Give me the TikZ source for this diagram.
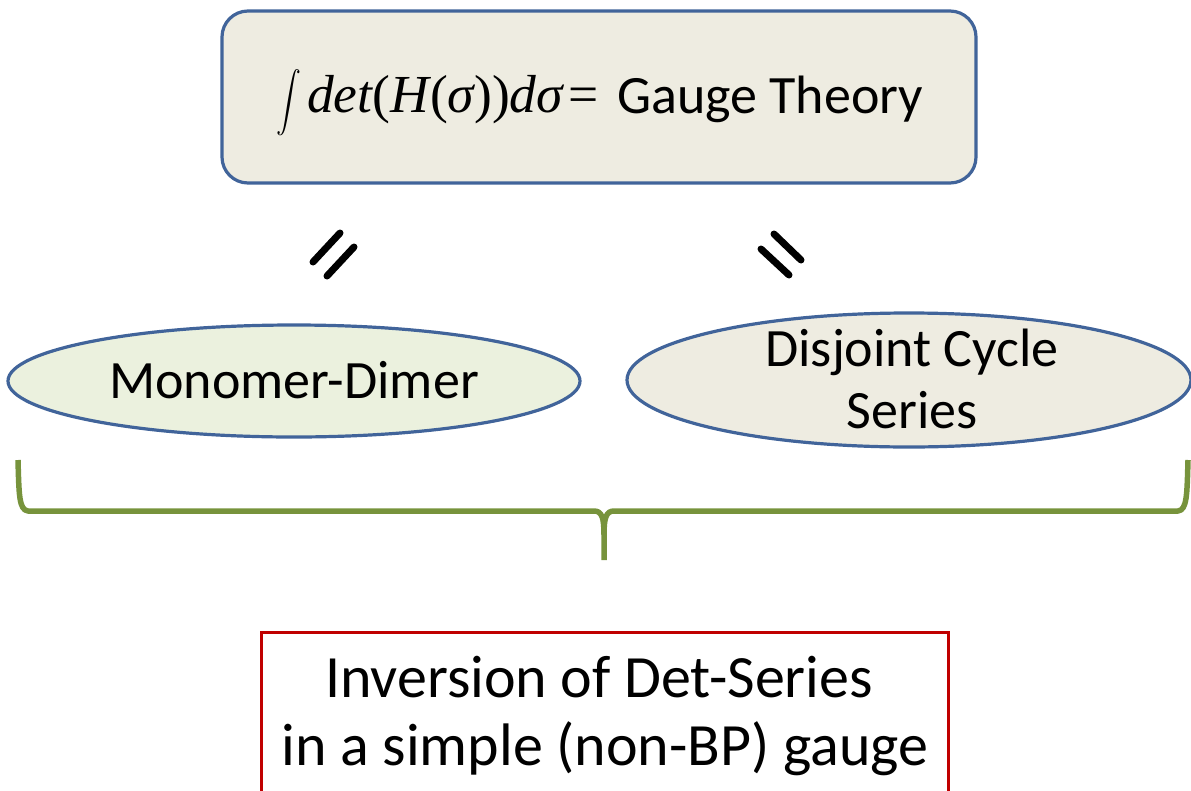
\documentclass[tikz,border=0pt]{standalone}
\usepackage{amsmath}
\usepackage{graphicx}
\usepackage{fontspec}
\setmainfont{Carlito}
\newfontfamily\tnr{Liberation Serif}
\usetikzlibrary{shapes.geometric}
\definecolor{boxline}{HTML}{41649A}
\definecolor{boxfill}{HTML}{EEECE1}
\definecolor{greenfill}{HTML}{EBF1DE}
\definecolor{bracecol}{HTML}{77933C}
\definecolor{redline}{HTML}{C00000}
\tikzset{
  topbox/.style={draw=boxline, fill=boxfill, line width=3.2pt, rounded corners=26pt},
  ellnode/.style={ellipse, draw=boxline, line width=3.2pt, inner sep=0pt, align=center},
  eqbar/.style={line width=7pt, line cap=round},
  bracepath/.style={draw=bracecol, line width=5.5pt, line join=round},
  redbox/.style={draw=redline, line width=3pt},
  bigtext/.style={font=\fontsize{54}{60}\selectfont, align=center},
}
\begin{document}
\begin{tikzpicture}[x=1pt,y=-1pt]
\useasboundingbox (0,0) rectangle (1191,790);
\clip (0,0) rectangle (1191,790);
% top box
\draw[topbox] (222,11) rectangle (976,183);
\node[inner sep=0pt, font=\fontsize{52}{56}\selectfont] (intsign) at (289,103)
  {\scalebox{1.0}[1.2]{$\displaystyle\int$}};
\node[anchor=base west, inner sep=0pt, font=\fontsize{53.5}{56}\selectfont] (formula) at (307,112)
  {{\tnr\itshape det}{\tnr(}{\tnr\itshape H}\hspace{1pt}{\tnr(}{\tnr\itshape σ}{\tnr))}{\tnr\itshape d}{\tnr\itshape σ}\hspace{6pt}{\tnr=}};
\node[anchor=base west, inner sep=0pt, font=\fontsize{54}{60}\selectfont] (gauge) at (617,113) {Gauge Theory};
% equal signs
\coordinate (l1a) at (313,262); \coordinate (l1b) at (340,233);
\coordinate (l2a) at (327,276); \coordinate (l2b) at (354,247);
\draw[eqbar] (l1a) -- (l1b);
\draw[eqbar] (l2a) -- (l2b);
\coordinate (r1a) at (774,234); \coordinate (r1b) at (801,260);
\coordinate (r2a) at (761,249); \coordinate (r2b) at (789,275);
\draw[eqbar] (r1a) -- (r1b);
\draw[eqbar] (r2a) -- (r2b);
% ellipses
\node[ellnode, fill=greenfill, minimum width=572pt, minimum height=112pt] (mono) at (294,381) {};
\node[bigtext, anchor=base] at (294,398) {Monomer-Dimer};
\node[ellnode, fill=boxfill, minimum width=564pt, minimum height=134pt] (disj) at (909,380) {};
\node[bigtext, anchor=base] at (912,366) {Disjoint Cycle};
\node[bigtext, anchor=base] at (912,428) {Series};
% brace
\coordinate (bl) at (18,460);
\coordinate (br) at (1188,460);
\coordinate (btip) at (604,560);
\draw[bracepath] (bl) .. controls (19,495) and (19,510) .. (28,511) -- (594,511)
  .. controls (602,511) and (604,518) .. (604,535) -- (btip);
\draw[bracepath] (604,535) .. controls (604,518) and (606,511) .. (614,511) -- (1178,511)
  .. controls (1187,510) and (1187,495) .. (br);
% bottom box
\draw[redbox, fill=white] (261,632) rectangle (948,800);
\node[anchor=base, inner sep=0pt, font=\fontsize{60}{68}\selectfont] (inv1) at (599,697) {Inversion of Det-Series};
\node[anchor=base, inner sep=0pt, font=\fontsize{60}{68}\selectfont] (inv2) at (605,765) {in a simple (non-BP) gauge};
\end{tikzpicture}
\end{document}
